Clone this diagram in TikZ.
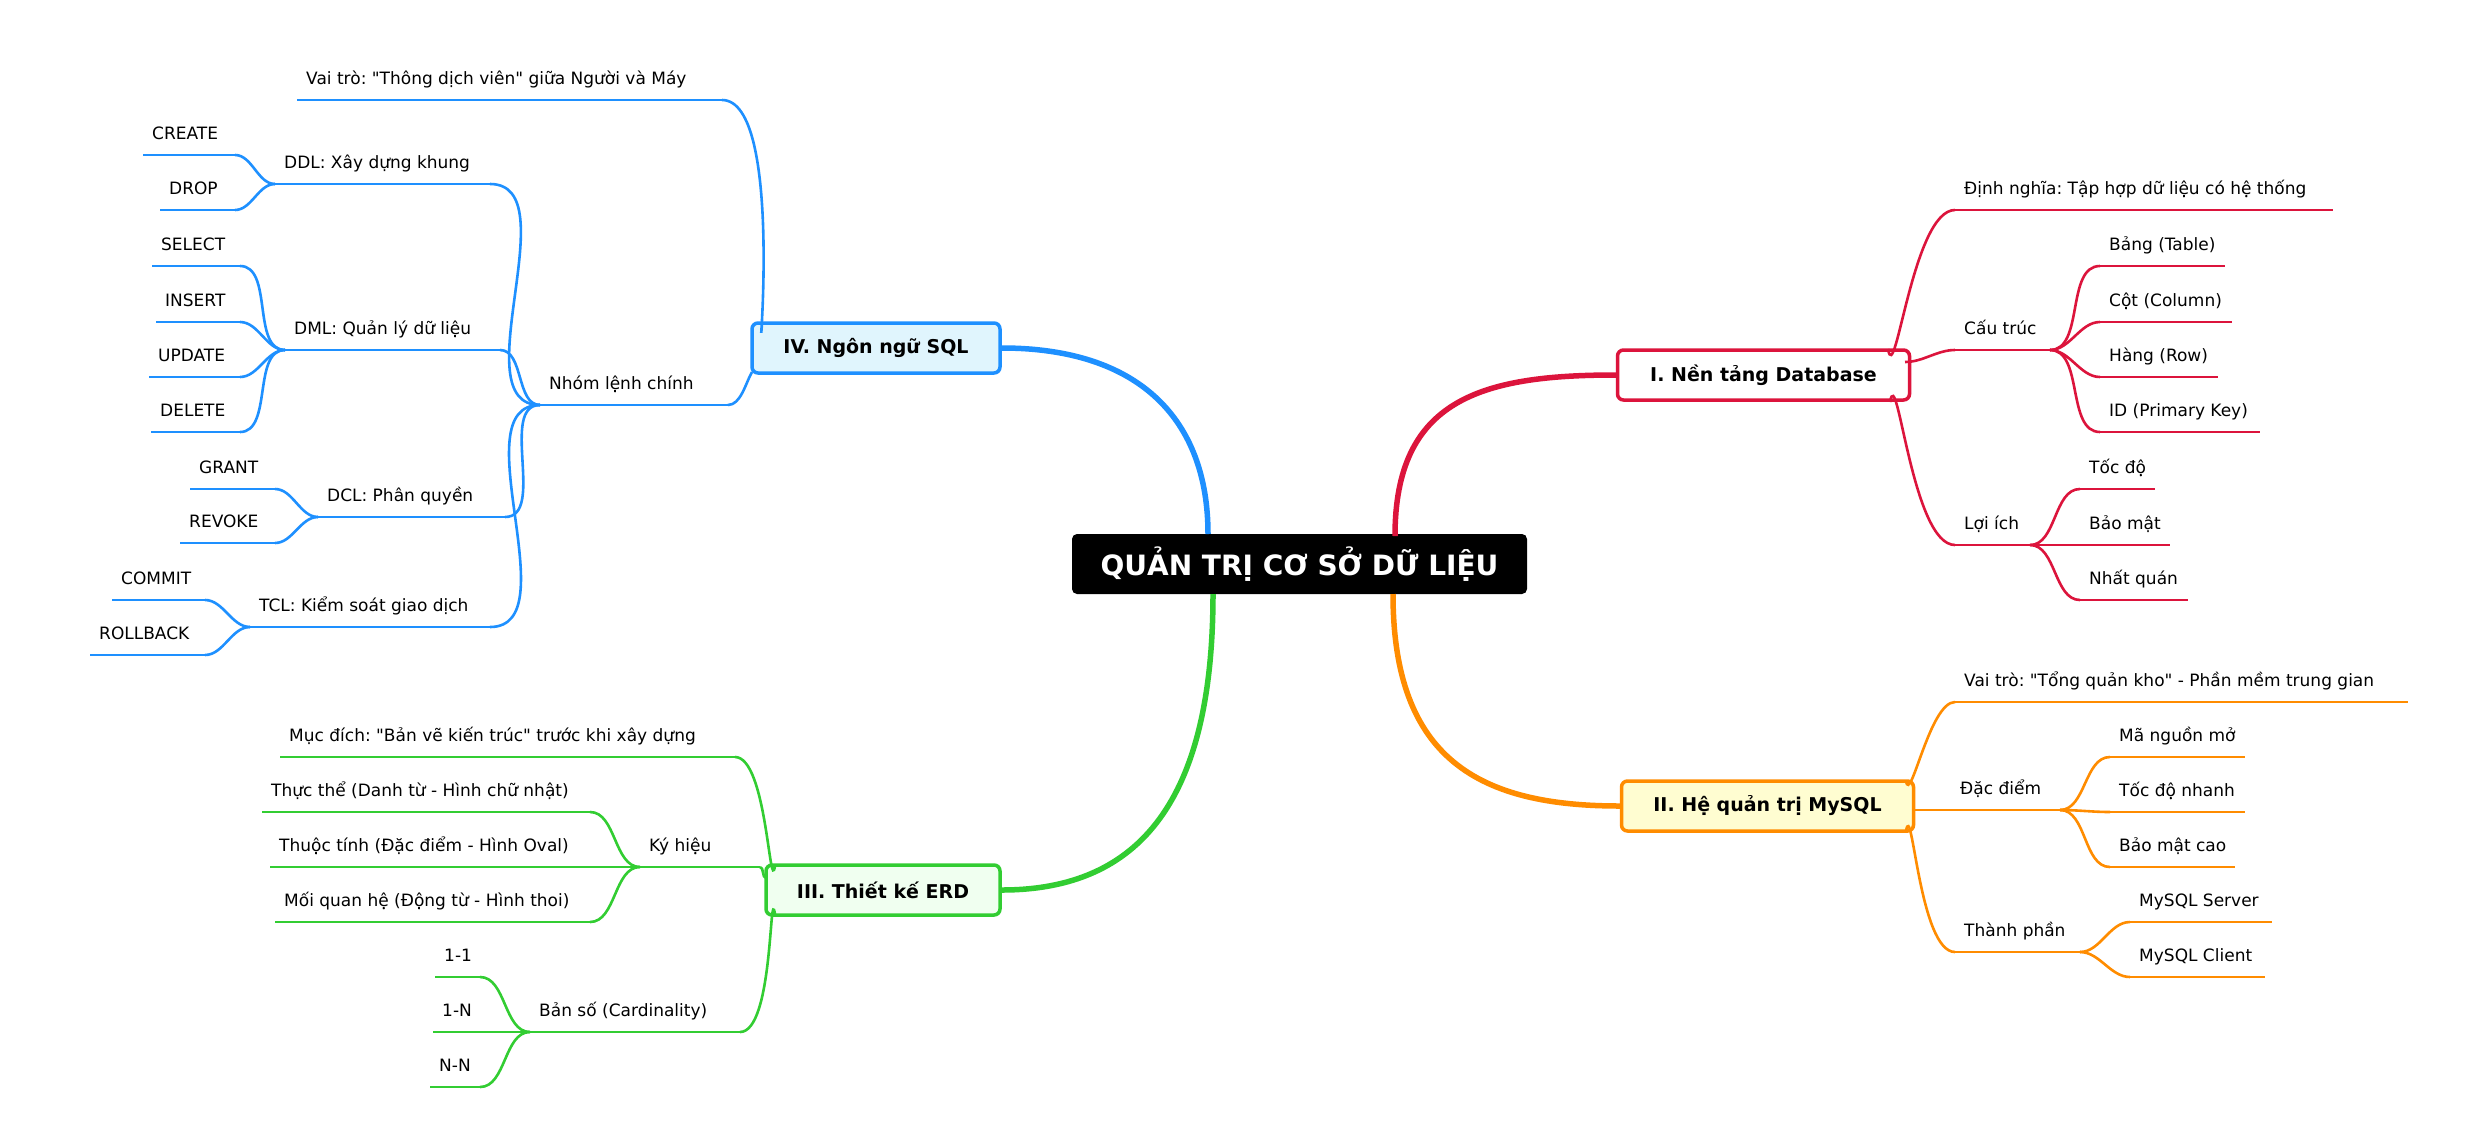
\documentclass[tikz,border=0pt]{standalone}
\usepackage{fontspec}
\setmainfont{DejaVu Sans}[Mapping=]
\usetikzlibrary{calc}
\definecolor{cr}{HTML}{DC143C}
\definecolor{co}{HTML}{FF8C00}
\definecolor{cg}{HTML}{32CD32}
\definecolor{cb}{HTML}{1E90FF}
\newcommand\qq{\char34\relax}
\tikzset{
 leafline/.style={line width=2.6pt},
 mainline/.style={line width=5.5pt},
 lbl/.style={inner sep=0pt,font=\frenchspacing\fontsize{17}{20}\selectfont},
 branch/.style={draw,line width=3.5pt,rounded corners=6pt,minimum height=50pt,font=\bfseries\fontsize{19}{22}\selectfont,inner xsep=0pt},
 R/.style={out=0,in=180,looseness=0.9},
 L/.style={out=180,in=0,looseness=0.9}
}
\newcommand\leaf[6]{\coordinate (#1l) at (#2,#4); \coordinate (#1r) at (#3,#4);
 \draw[leafline,#6] (#1l)--(#1r);
 \node[lbl,anchor=base west] (#1) at ($(#1l)+(9,-16)$) {#5};}
\begin{document}
\begin{tikzpicture}[x=1pt,y=-1pt]
\useasboundingbox (0,0) rectangle (2477,1125);
\fill[white] (0,0) rectangle (2477,1125);
% center
\node[fill=black,text=white,rounded corners=5pt,minimum width=455pt,minimum height=60pt,font=\bfseries\fontsize{28}{32}\selectfont] (c) at (1299.5,564) {QUẢN TRỊ CƠ SỞ DỮ LIỆU};
% branch boxes
\node[branch,cr,fill=white,text=black,minimum width=292pt] (b1) at (1763.5,375) {I. Nền tảng Database};
\node[branch,co,fill=yellow!18,text=black,minimum width=292pt] (b2) at (1767.5,806) {II. Hệ quản trị MySQL};
\node[branch,cg,fill=green!6,text=black,minimum width=234pt] (b3) at (883,890) {III. Thiết kế ERD};
\node[branch,cb,fill=cyan!12,text=black,minimum width=248pt] (b4) at (876,348) {IV. Ngôn ngữ SQL};
% main curves
\draw[mainline,cr] (1395,536) .. controls (1395,400) and (1480,375) .. (b1.west);
\draw[mainline,co] (1393,594) .. controls (1393,760) and (1480,806) .. (b2.west);
\draw[mainline,cg] (1213,594) .. controls (1213,800) and (1140,890) .. (b3.east);
\draw[mainline,cb] (1208,534) .. controls (1208,420) and (1140,348) .. (b4.east);
% ---- Branch I
\coordinate (p1a) at (1888,349); \coordinate (p1b) at (1905,362); \coordinate (p1c) at (1890,402);
\leaf{d1}{1955}{2333}{210}{Định nghĩa: Tập hợp dữ liệu có hệ thống}{cr}
\leaf{ct}{1955}{2050}{350}{Cấu trúc}{cr}
\leaf{li}{1955}{2030}{545}{Lợi ích}{cr}
\draw[leafline,cr] (p1a) to[out=-90+10,in=180,looseness=0.7] (d1l);
\draw[leafline,cr] (p1b) to[R] (ctl);
\draw[leafline,cr] (p1c) to[out=80,in=180,looseness=0.7] (lil);
\leaf{bt}{2100}{2225}{266}{Bảng (Table)}{cr}
\leaf{cc}{2100}{2232}{322}{Cột (Column)}{cr}
\leaf{hr}{2100}{2218}{377}{Hàng (Row)}{cr}
\leaf{id}{2100}{2260}{432}{ID (Primary Key)}{cr}
\foreach \n in {bt,cc,hr,id} \draw[leafline,cr] (ctr) to[R] (\n l);
\leaf{td}{2080}{2155}{489}{Tốc độ}{cr}
\leaf{bm}{2080}{2170}{545}{Bảo mật}{cr}
\leaf{nq}{2080}{2188}{600}{Nhất quán}{cr}
\foreach \n in {td,bm,nq} \draw[leafline,cr] (lir) to[R] (\n l);
% ---- Branch II
\coordinate (p2a) at (1906,781); \coordinate (p2c) at (1906,831);
\leaf{vt2}{1955}{2408}{702}{Vai trò: \qq Tổng quản kho\qq{} - Phần mềm trung gian}{co}
\leaf{dd}{1914}{2060}{810}{\hspace{37pt}Đặc điểm}{co}
\leaf{tp}{1955}{2080}{952}{Thành phần}{co}
\draw[leafline,co] (p2a) to[out=-80,in=180,looseness=0.7] (vt2l);
\draw[leafline,co] (p2c) to[out=80,in=180,looseness=0.7] (tpl);
\leaf{mn}{2110}{2245}{757}{Mã nguồn mở}{co}
\leaf{tn}{2110}{2245}{812}{Tốc độ nhanh}{co}
\leaf{bc}{2110}{2235}{867}{Bảo mật cao}{co}
\foreach \n in {mn,tn,bc} \draw[leafline,co] (ddr) to[R] (\n l);
\leaf{ms}{2130}{2272}{922}{MySQL Server}{co}
\leaf{mc}{2130}{2265}{977}{MySQL Client}{co}
\foreach \n in {ms,mc} \draw[leafline,co] (tpr) to[R] (\n l);
% ---- Branch IV
\coordinate (p4a) at (762,324); \coordinate (p4b) at (752,372);
\leaf{vt4}{297}{722}{100}{Vai trò: \qq Thông dịch viên\qq{} giữa Người và Máy}{cb}
\leaf{nl}{540}{728}{405}{Nhóm lệnh chính}{cb}
\draw[leafline,cb] (vt4r) to[out=0,in=-90-5,looseness=0.7] (p4a);
\draw[leafline,cb] (nlr) to[out=0,in=-120,looseness=0.8] (p4b);
\leaf{ddl}{275}{490}{184}{DDL: Xây dựng khung}{cb}
\leaf{dml}{285}{500}{350}{DML: Quản lý dữ liệu}{cb}
\leaf{dcl}{318}{505}{517}{DCL: Phân quyền}{cb}
\leaf{tcl}{250}{490}{627}{TCL: Kiểm soát giao dịch}{cb}
\foreach \n in {ddl,dml,dcl,tcl} \draw[leafline,cb] (\n r) to[R] (nll);
\leaf{cr1}{143}{235}{155}{CREATE}{cb}
\leaf{dr}{160}{235}{210}{DROP}{cb}
\foreach \n in {cr1,dr} \draw[leafline,cb] (\n r) to[R] (ddll);
\leaf{se}{152}{240}{266}{SELECT}{cb}
\leaf{in1}{156}{240}{322}{INSERT}{cb}
\leaf{up}{149}{240}{377}{UPDATE}{cb}
\leaf{de}{151}{240}{432}{DELETE}{cb}
\foreach \n in {se,in1,up,de} \draw[leafline,cb] (\n r) to[R] (dmll);
\leaf{gr}{190}{275}{489}{GRANT}{cb}
\leaf{rv}{180}{275}{543}{REVOKE}{cb}
\foreach \n in {gr,rv} \draw[leafline,cb] (\n r) to[R] (dcll);
\leaf{cm}{112}{205}{600}{COMMIT}{cb}
\leaf{rb}{90}{205}{655}{ROLLBACK}{cb}
\foreach \n in {cm,rb} \draw[leafline,cb] (\n r) to[R] (tcll);
% ---- Branch III
\coordinate (p3a) at (775,866); \coordinate (p3b) at (766,878); \coordinate (p3c) at (775,914);
\leaf{md}{280}{735}{757}{Mục đích: \qq Bản vẽ kiến trúc\qq{} trước khi xây dựng}{cg}
\leaf{kh}{640}{760}{867}{Ký hiệu}{cg}
\leaf{bs}{530}{740}{1032}{Bản số (Cardinality)}{cg}
\draw[leafline,cg] (mdr) to[out=0,in=-100,looseness=0.7] (p3a);
\draw[leafline,cg] (khr) to[out=0,in=180,looseness=0.8] (p3b);
\draw[leafline,cg] (bsr) to[out=0,in=100,looseness=0.7] (p3c);
\leaf{tt}{262}{590}{812}{Thực thể (Danh từ - Hình chữ nhật)}{cg}
\leaf{ti}{270}{590}{867}{Thuộc tính (Đặc điểm - Hình Oval)}{cg}
\leaf{mq}{275}{590}{922}{Mối quan hệ (Động từ - Hình thoi)}{cg}
\foreach \n in {tt,ti,mq} \draw[leafline,cg] (\n r) to[R] (khl);
\leaf{o1}{435}{480}{977}{1-1}{cg}
\leaf{o2}{433}{480}{1032}{1-N}{cg}
\leaf{o3}{430}{480}{1087}{N-N}{cg}
\foreach \n in {o1,o2,o3} \draw[leafline,cg] (\n r) to[R] (bsl);
\end{tikzpicture}
\end{document}
